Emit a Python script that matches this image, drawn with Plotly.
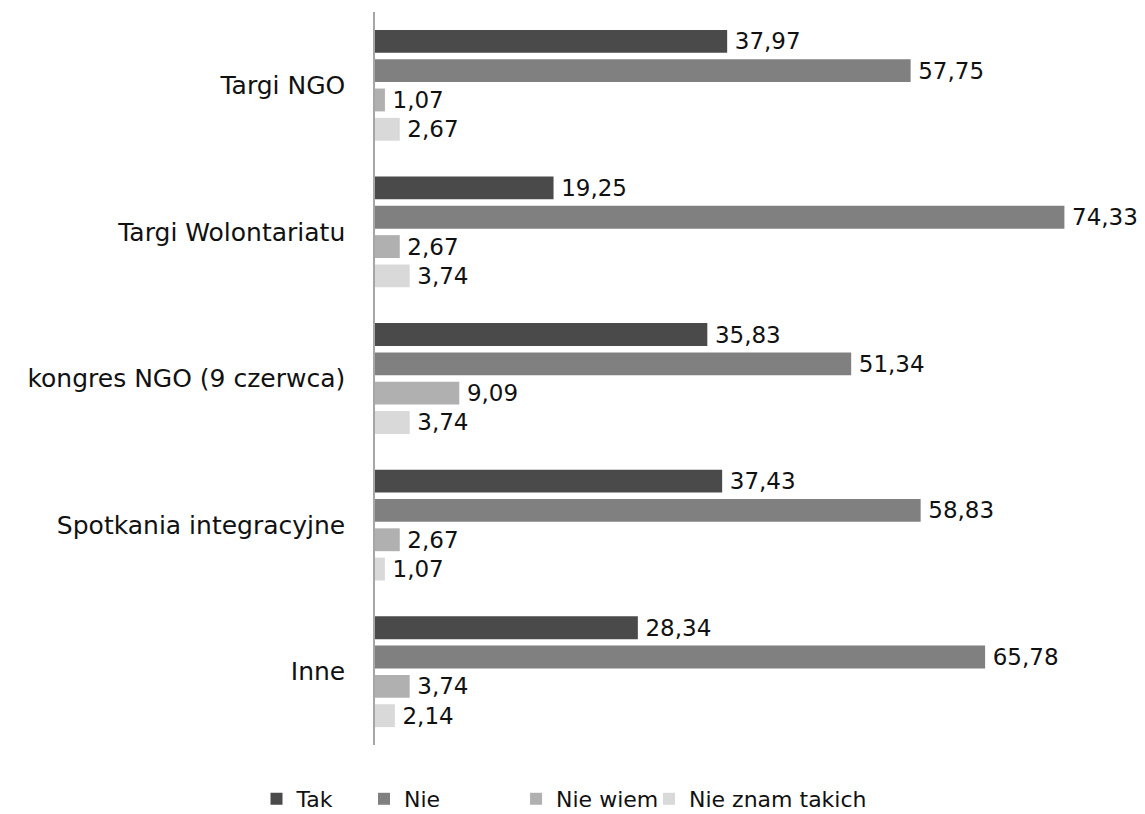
import plotly.graph_objects as go

categories = ["Targi NGO", "Targi Wolontariatu", "kongres NGO (9 czerwca)", "Spotkania integracyjne", "Inne"]
series_names = ["Tak", "Nie", "Nie wiem", "Nie znam takich"]
tak = [37.97, 19.25, 35.83, 37.43, 28.34]
nie = [57.75, 74.33, 51.34, 58.83, 65.78]
nie_wiem = [1.07, 2.67, 9.09, 2.67, 3.74]
nie_znam = [2.67, 3.74, 3.74, 1.07, 2.14]
colors = ["#4a4a4a", "#808080", "#b0b0b0", "#d9d9d9"]

FONT = "DejaVu Sans"
legend_ids = ["legend", "legend2", "legend3", "legend4"]
legend_x = [-0.1597, -0.0148, 0.1901, 0.3693]

fig = go.Figure()
for name, vals, col, lid in zip(series_names, [tak, nie, nie_wiem, nie_znam], colors, legend_ids):
    fig.add_trace(go.Bar(
        y=categories, x=vals, name=name, orientation="h",
        marker=dict(color=col, line=dict(width=0)),
        texttemplate="\u2009%{x:.2f}", textposition="outside",
        textfont=dict(size=23, color="#111111", family=FONT),
        constraintext="none",
        cliponaxis=False, legend=lid,
    ))

leg_common = dict(orientation="h", xanchor="left", y=-0.045, yanchor="top",
                  font=dict(size=22, family=FONT), itemwidth=30, bgcolor="rgba(0,0,0,0)")
layout_legends = {lid: dict(x=lx, **leg_common) for lid, lx in zip(legend_ids, legend_x)}

fig.update_layout(
    width=1137, height=830,
    separators=",.",
    barmode="group", bargap=0.2, bargroupgap=0.22,
    paper_bgcolor="white", plot_bgcolor="white",
    margin=dict(l=367, r=28, t=4, b=93),
    font=dict(family=FONT, size=23, color="#111111"),
    showlegend=True,
    xaxis=dict(range=[0, 80], visible=False),
    yaxis=dict(autorange="reversed", showline=True, linecolor="#a6a6a6", linewidth=1.5,
               ticks="", ticklabelstandoff=23, automargin=False,
               tickfont=dict(size=25, family=FONT)),
    **layout_legends,
)
fig.write_html("out.html")
